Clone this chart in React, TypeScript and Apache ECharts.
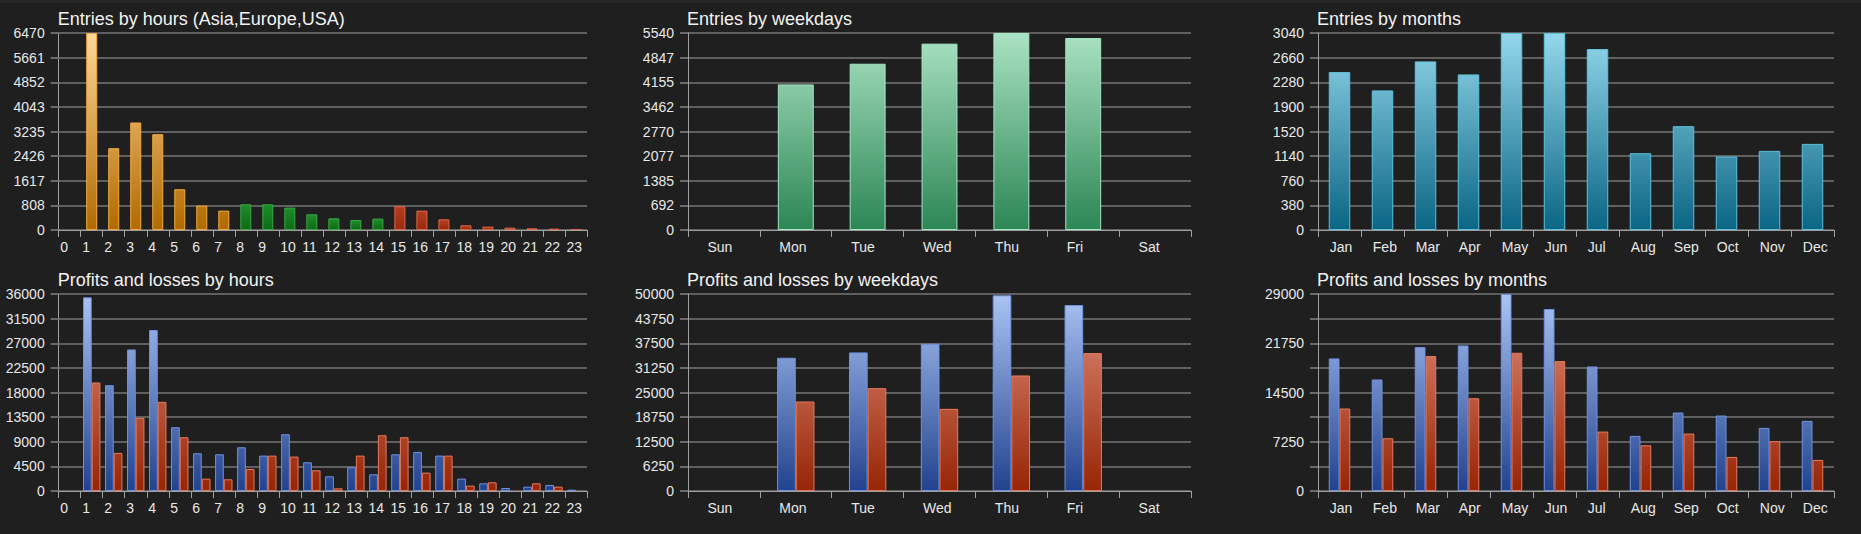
import { useEffect, useRef } from 'react';
import * as echarts from 'echarts';

const W = 1861;
const H = 534;
const FONT = '"Liberation Sans", Arial, sans-serif';

// ---- categories ----
const hours = ['0','1','2','3','4','5','6','7','8','9','10','11','12','13','14','15','16','17','18','19','20','21','22','23'];
const hourSessions = [
  'asia','asia','asia','asia','asia','asia','asia','asia',
  'europe','europe','europe','europe','europe','europe','europe',
  'usa','usa','usa','usa','usa','usa','usa','usa','usa',
];
const weekdays = ['Sun','Mon','Tue','Wed','Thu','Fri','Sat'];
const months = ['Jan','Feb','Mar','Apr','May','Jun','Jul','Aug','Sep','Oct','Nov','Dec'];

// ---- series values ----
const hourEntries = [0, 6470, 2687, 3531, 3147, 1338, 800, 636, 844, 844, 735, 515, 384, 329, 373, 779, 636, 351, 154, 110, 77, 55, 44, 33];
const weekdayEntries = [0, 4094, 4676, 5240, 5540, 5399, 0];
const monthEntries = [2437, 2154, 2602, 2401, 3040, 3040, 2793, 1185, 1602, 1134, 1221, 1329];

const hourProfits = [0, 35390, 19342, 25871, 29410, 11654, 6895, 6712, 7993, 6468, 10373, 5247, 2685, 4332, 3051, 6712, 7139, 6468, 2258, 1403, 549, 793, 1098, 244];
const hourLosses = [0, 19831, 6956, 13363, 16292, 9824, 2258, 2136, 4027, 6468, 6285, 3783, 488, 6468, 10190, 9824, 3356, 6468, 976, 1586, 0, 1403, 793, 0];
const weekdayProfits = [0, 33814, 35169, 37373, 49661, 47203, 0];
const weekdayLosses = [0, 22712, 26102, 20847, 29322, 35000, 0];
const monthProfits = [19513, 16417, 21185, 21431, 29000, 26788, 18334, 8110, 11551, 11108, 9290, 10322];
const monthLosses = [12141, 7766, 19858, 13664, 20349, 19120, 8749, 6734, 8454, 5014, 7324, 4571];

// ---- axis scales (max, tick step) ----
const hourEntriesAxis = [6470, 808.75];
const weekdayEntriesAxis = [5540, 692.5];
const monthEntriesAxis = [3040, 380];
const hourPnlAxis = [36000, 4500];
const weekdayPnlAxis = [50000, 6250];
const monthPnlAxis = [29000, 3625];

const titles = [
  'Entries by hours (Asia,Europe,USA)',
  'Entries by weekdays',
  'Entries by months',
  'Profits and losses by hours',
  'Profits and losses by weekdays',
  'Profits and losses by months',
];

// ---- layout ----
const COLS = [
  { left: 58.7, width: 528.3, pad: -9.5 },
  { left: 688, width: 503, pad: -16.5 },
  { left: 1318, width: 516, pad: -9.7 },
];
const ROWS = [
  { top: 33, height: 197, titleY: 18.5 },
  { top: 294, height: 197, titleY: 280 },
];

function grad(y0: number, y1: number, top: string, bottom: string) {
  return new echarts.graphic.LinearGradient(0, y0, 0, y1, [
    { offset: 0, color: top },
    { offset: 1, color: bottom },
  ], true);
}
function localGrad(top: string, bottom: string) {
  return new echarts.graphic.LinearGradient(0, 0, 0, 1, [
    { offset: 0, color: top },
    { offset: 1, color: bottom },
  ]);
}
// empty cells draw nothing
const nz = (v: number) => (v === 0 ? null : v);

function buildOption() {
  const grids: any[] = [];
  const xAxes: any[] = [];
  const yAxes: any[] = [];
  const series: any[] = [];
  const graphics: any[] = [
    { type: 'rect', shape: { x: 0, y: 0, width: W, height: 3 }, style: { fill: '#272727' }, silent: true },
  ];
  const cats = [hours, weekdays, months];
  const axesTop = [hourEntriesAxis, weekdayEntriesAxis, monthEntriesAxis];
  const axesBot = [hourPnlAxis, weekdayPnlAxis, monthPnlAxis];

  ROWS.forEach((row, r) => {
    COLS.forEach((col, c) => {
      const gi = r * 3 + c;
      grids.push({ left: col.left, top: row.top, width: col.width, height: row.height, containLabel: false });
      graphics.push({
        type: 'text', x: col.left - 1, y: row.titleY,
        style: { text: titles[gi], fill: '#f2f2f2', font: `18px ${FONT}`, verticalAlign: 'middle', align: 'left' },
        silent: true,
      });
      xAxes.push({
        type: 'category', gridIndex: gi, data: cats[c], boundaryGap: true, z: 5,
        axisLine: { show: true, lineStyle: { color: '#a0a0a0', width: 1 } },
        axisTick: { show: true, length: 7, lineStyle: { color: '#a0a0a0' } },
        axisLabel: {
          color: '#e8e8e8', fontSize: 14, fontFamily: FONT, margin: 10, interval: 0,
          align: 'left', padding: [0, 0, 0, col.pad],
        },
        splitLine: { show: false },
      });
      const ax = r === 0 ? axesTop[c] : axesBot[c];
      const everyOther = r === 1 && c === 2;
      yAxes.push({
        type: 'value', gridIndex: gi, min: 0, max: ax[0], interval: ax[1],
        axisLine: { show: true, lineStyle: { color: '#a0a0a0', width: 1 } },
        axisTick: { show: true, length: 8, lineStyle: { color: '#6a6a6a', width: 2 } },
        axisLabel: {
          color: '#e8e8e8', fontSize: 14, fontFamily: FONT, margin: 14,
          formatter: (v: number, i: number) => (everyOther && i % 2 === 1 ? '' : String(Math.floor(v + 1e-6))),
        },
        splitLine: { show: true, lineStyle: { color: '#5f5f5f', width: 2 } },
      });
    });
  });

  const t0 = ROWS[0].top, b0 = ROWS[0].top + ROWS[0].height;
  const t1 = ROWS[1].top, b1 = ROWS[1].top + ROWS[1].height;

  const sessionStyle: Record<string, any> = {
    asia: { color: grad(t0, b0, '#ffd898', '#b06a00'), borderColor: '#f5a93e', borderWidth: 1 },
    europe: { color: localGrad('#1f8c2b', '#0f6a17'), borderColor: '#38a843', borderWidth: 1 },
    usa: { color: localGrad('#b43c22', '#982a0e'), borderColor: '#e06648', borderWidth: 1 },
  };

  series.push({
    type: 'bar', xAxisIndex: 0, yAxisIndex: 0, barWidth: '50%',
    data: hourEntries.map((v, i) => ({ value: nz(v), itemStyle: sessionStyle[hourSessions[i]] })),
  });
  series.push({
    type: 'bar', xAxisIndex: 1, yAxisIndex: 1, barWidth: '50%', data: weekdayEntries.map(nz),
    itemStyle: { color: grad(t0, b0, '#aae2c4', '#2c8654'), borderColor: '#a2e6c2', borderWidth: 1 },
  });
  series.push({
    type: 'bar', xAxisIndex: 2, yAxisIndex: 2, barWidth: '50%', data: monthEntries.map(nz),
    itemStyle: { color: grad(t0, b0, '#94d8ec', '#0a6584'), borderColor: '#5cc2de', borderWidth: 1 },
  });

  const blue = { color: grad(t1, b1, '#abc4f4', '#22428e'), borderColor: '#6d92e2', borderWidth: 1 };
  const red = { color: grad(t1, b1, '#e4917e', '#962505'), borderColor: '#e8795a', borderWidth: 1 };
  const pnl: [number[], number[], string][] = [
    [hourProfits, hourLosses, '39.5%'],
    [weekdayProfits, weekdayLosses, '26%'],
    [monthProfits, monthLosses, '25%'],
  ];
  pnl.forEach(([p, l, bw], c) => {
    const gi = 3 + c;
    series.push({ type: 'bar', xAxisIndex: gi, yAxisIndex: gi, barWidth: bw, barGap: '0%', data: p.map(nz), itemStyle: blue });
    series.push({ type: 'bar', xAxisIndex: gi, yAxisIndex: gi, barWidth: bw, barGap: '0%', data: l.map(nz), itemStyle: red });
  });

  return {
    animation: false,
    backgroundColor: '#1f1f1f',
    textStyle: { fontFamily: FONT },
    grid: grids,
    xAxis: xAxes,
    yAxis: yAxes,
    series,
    graphic: graphics,
  };
}

export default function App() {
  const ref = useRef<HTMLDivElement>(null);
  useEffect(() => {
    document.body.style.margin = '0';
    document.body.style.background = '#1f1f1f';
    if (!ref.current) return;
    const chart = echarts.init(ref.current, undefined, { renderer: 'svg', width: W, height: H });
    chart.setOption(buildOption());
    return () => chart.dispose();
  }, []);
  return <div ref={ref} style={{ width: W, height: H }} />;
}
